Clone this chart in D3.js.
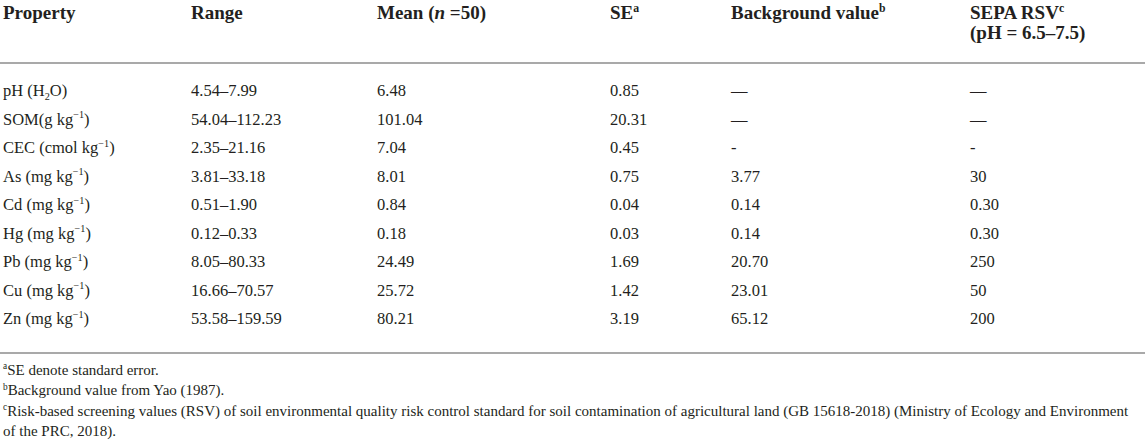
<!DOCTYPE html>
<html>
<head>
<meta charset="UTF-8">
<title>Soil properties</title>
<style>
  body { margin: 0; background: #fff; }
  svg { display: block; font-family: "Liberation Serif", "DejaVu Serif", serif; }
</style>
</head>
<body>
<svg width="1145" height="442"></svg>
<script src="https://cdn.jsdelivr.net/npm/d3@7/dist/d3.min.js"></script>
<script>
// table data
var properties = ["pH (H_{2}O)", "SOM(g kg^{−1})", "CEC (cmol kg^{−1})", "As (mg kg^{−1})", "Cd (mg kg^{−1})",
                  "Hg (mg kg^{−1})", "Pb (mg kg^{−1})", "Cu (mg kg^{−1})", "Zn (mg kg^{−1})"];
var ranges = ["4.54–7.99", "54.04–112.23", "2.35–21.16", "3.81–33.18", "0.51–1.90",
              "0.12–0.33", "8.05–80.33", "16.66–70.57", "53.58–159.59"];
var means = ["6.48", "101.04", "7.04", "8.01", "0.84", "0.18", "24.49", "25.72", "80.21"];
var ses = ["0.85", "20.31", "0.45", "0.75", "0.04", "0.03", "1.69", "1.42", "3.19"];
var backgrounds = ["—", "—", "-", "3.77", "0.14", "0.14", "20.70", "23.01", "65.12"];
var rsvs = ["—", "—", "-", "30", "0.30", "0.30", "250", "50", "200"];

var columns = ["prop", "range", "mean", "se", "bg", "rsv"];
var headers = [["Property"], ["Range"], ["Mean (*n* =50)"], ["SE^{a}"], ["Background value^{b}"],
               ["SEPA RSV^{c}", "(pH = 6.5–7.5)"]];
var footnotes = [
  ["^{a}SE denote standard error."],
  ["^{b}Background value from Yao (1987)."],
  ["^{c}Risk-based screening values (RSV) of soil environmental quality risk control standard for soil contamination of agricultural land (GB 15618-2018) (Ministry of Ecology and Environment",
   "of the PRC, 2018)."]
];

var W = 1145;
var svg = d3.select("svg");

var x = d3.scaleOrdinal().domain(columns).range([3, 191, 377, 610, 731, 970]);
var y = d3.scalePoint().domain(d3.range(properties.length)).range([96, 324]);

// write "a_{sub} b^{sup} *italic*" as tspans
function rich(sel, str, size) {
  var parts = str.split(/(_\{[^}]*\}|\^\{[^}]*\}|\*[^*]*\*)/).filter(function(s){ return s !== ""; });
  var shift = 0;
  parts.forEach(function(p) {
    var t = sel.append("tspan");
    var dy = 0;
    if (p[0] === "_") { t.text(p.slice(2, -1)).attr("font-size", size * 0.62); dy = size * 0.25; }
    else if (p[0] === "^" ) { t.text(p.slice(2, -1)).attr("font-size", size * 0.62); dy = -size * 0.38; }
    else if (p[0] === "*") { t.text(p.slice(1, -1)).attr("font-style", "italic"); }
    else t.text(p);
    t.attr("dy", dy - shift);
    shift = dy;
  });
}

var ink = "#231f20";

// header
var head = svg.append("g").attr("font-weight", "bold").attr("fill", ink);
headers.forEach(function(lines, i) {
  lines.forEach(function(line, j) {
    var t = head.append("text").attr("x", x(columns[i])).attr("y", 19 + j * 20).attr("font-size", 19);
    rich(t, line, 19);
  });
});

// rules
svg.selectAll("line.rule").data([63, 353]).join("line")
  .attr("class", "rule")
  .attr("x1", 0).attr("x2", W)
  .attr("y1", function(d){ return d; }).attr("y2", function(d){ return d; })
  .attr("stroke", "#8c8c8c").attr("stroke-width", 1.5);

// body rows
var cols = [properties, ranges, means, ses, backgrounds, rsvs];
var body = svg.append("g").attr("fill", ink).attr("font-size", 16.5);
cols.forEach(function(vals, c) {
  vals.forEach(function(v, r) {
    var t = body.append("text").attr("x", x(columns[c])).attr("y", y(r));
    rich(t, v, 16.5);
  });
});

// footnotes
var foot = svg.append("g").attr("fill", ink).attr("font-size", 15);
var fy = 375;
footnotes.forEach(function(lines) {
  lines.forEach(function(line) {
    var t = foot.append("text").attr("x", 3).attr("y", fy);
    rich(t, line, 15);
    fy += 20.3;
  });
});
</script>
</body>
</html>
